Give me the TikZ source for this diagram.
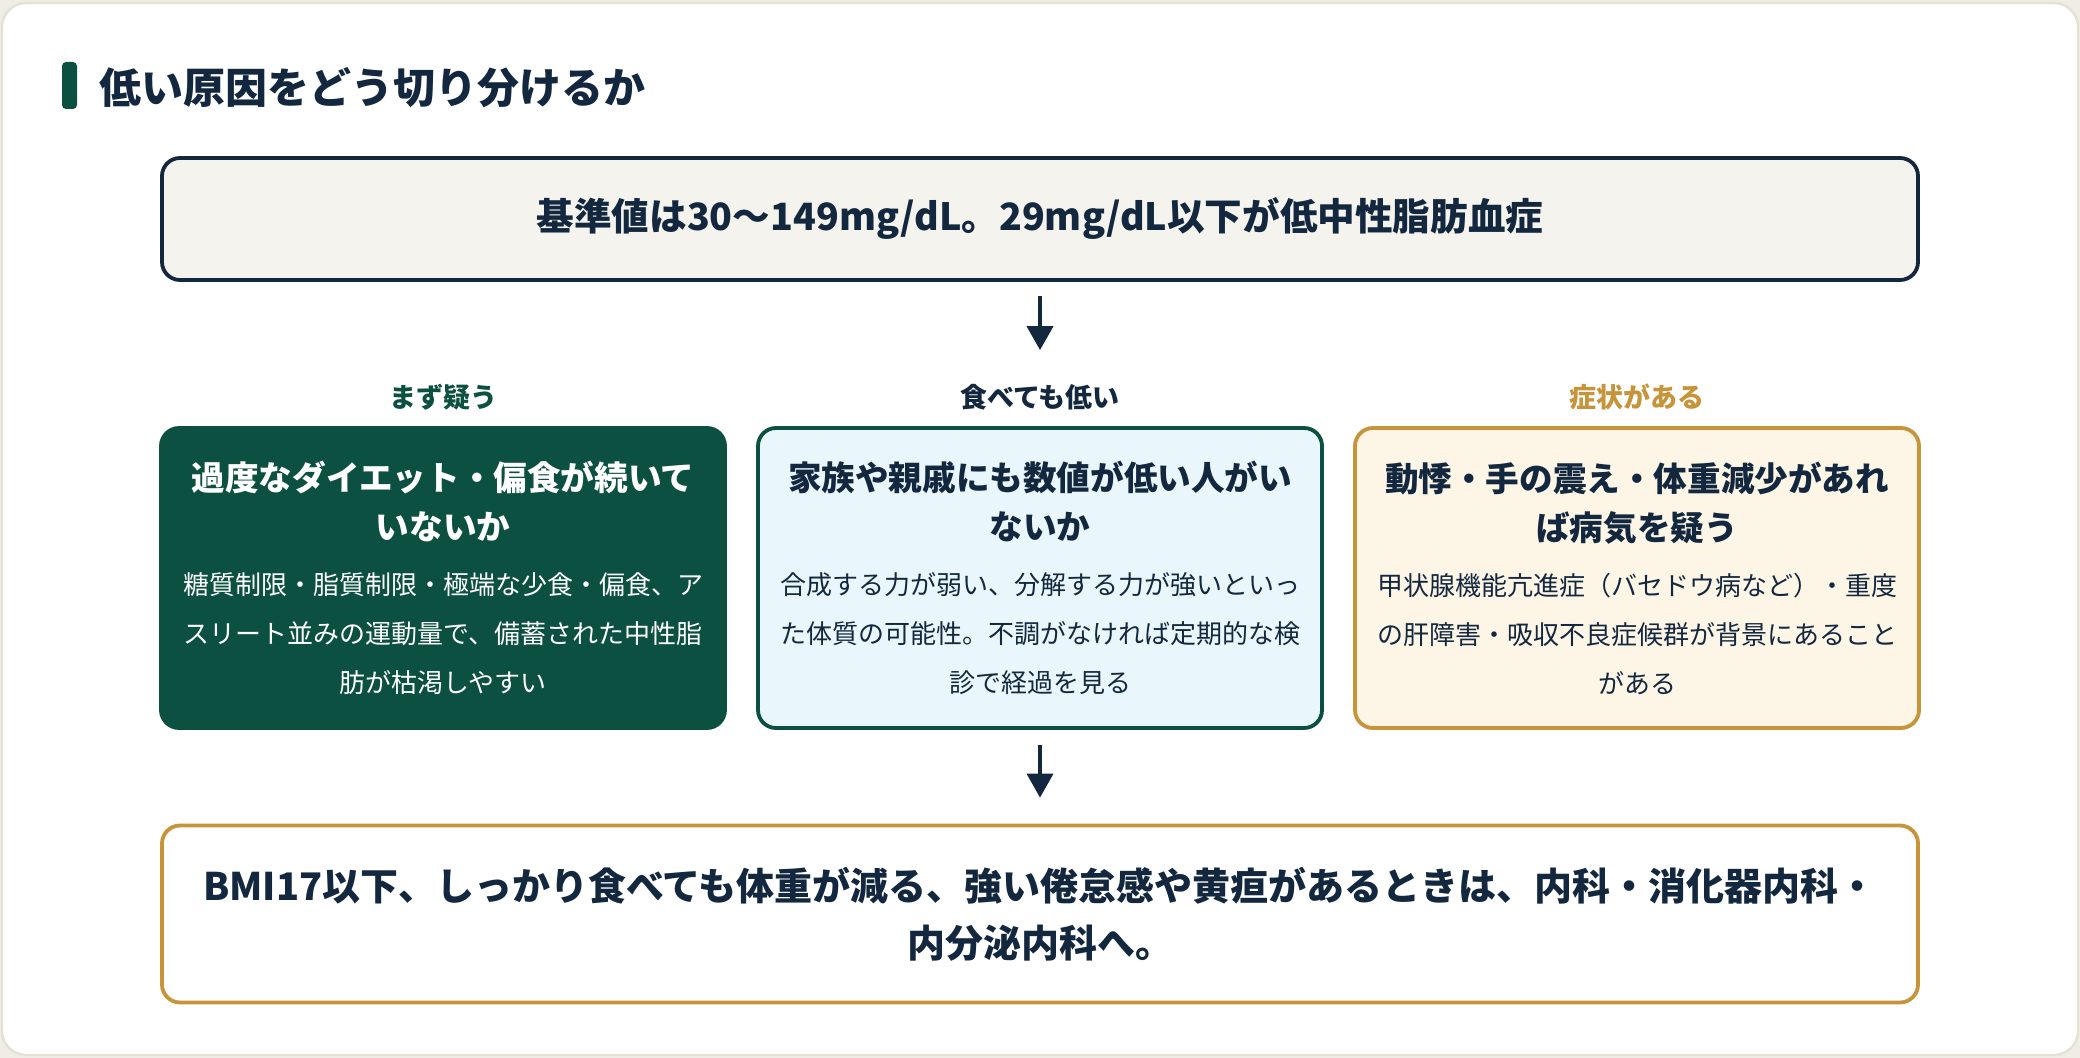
\documentclass[tikz,border=0pt]{standalone}
\usepackage{fontspec}
\setmainfont{Noto Sans CJK JP}
\usetikzlibrary{positioning,arrows.meta}
\definecolor{navy}{HTML}{13283F}
\definecolor{deepgreen}{HTML}{0B5040}
\definecolor{gold}{HTML}{C8943A}
\definecolor{cream}{HTML}{FDF5E6}
\definecolor{icecyan}{HTML}{E9F7FC}
\definecolor{paper}{HTML}{F5F3EE}
\definecolor{cardline}{HTML}{E5E1D3}
\definecolor{outside}{HTML}{EFEDE5}

\newcommand{\boxhead}[1]{{\fontsize{16.8pt}{24.5pt}\selectfont\bfseries #1\par}\vskip3pt}
\newcommand{\boxbody}[1]{{\fontsize{13pt}{24.5pt}\selectfont #1\par}}

\tikzset{
  wide/.style={rounded corners=9pt, line width=1.9pt, text width=866pt, inner xsep=6pt,
    align=center, text=navy, font=\fontsize{19pt}{28.5pt}\selectfont\bfseries},
  card/.style={rounded corners=9pt, line width=1.9pt, text width=270pt, inner xsep=6pt,
    minimum height=150pt, align=center, text=navy},
  tag/.style={font=\fontsize{13.5pt}{16pt}\selectfont\bfseries},
  flow/.style={-{Triangle[width=13pt,length=12pt]}, line width=2pt, draw=navy}
}

\begin{document}
\begin{tikzpicture}[x=0.5pt,y=-0.5pt]
  \useasboundingbox (0,0) rectangle (2080,1058);
  \fill[outside] (0,0) rectangle (2080,1058);
  \draw[cardline, fill=white, line width=1.2pt, rounded corners=12pt] (2,3) rectangle (2078,1055);

  % heading
  \fill[deepgreen, rounded corners=2pt] (62,62) rectangle (77,109);
  \node[anchor=west, text=navy, font=\fontsize{21pt}{24pt}\selectfont\bfseries] (heading) at (92,88) {低い原因をどう切り分けるか};

  % reference range
  \node[wide, draw=navy, fill=paper, minimum height=61pt, font=\fontsize{18.8pt}{28.5pt}\selectfont\bfseries] (limit) at (1040,219) {基準値は30〜149mg/dL。29mg/dL以下が低中性脂肪血症};

  % three causes
  \node[tag, text=deepgreen] (tagdiet) at (443,397) {まず疑う};
  \node[tag, text=navy] (tagfamily) at (1040,397) {食べても低い};
  \node[tag, text=gold] (tagsign) at (1637,397) {症状がある};

  \node[card, draw=deepgreen, fill=deepgreen, text=white] (diet) at (443,578) {%
    \boxhead{過度なダイエット・偏食が続いて\\いないか}%
    \boxbody{糖質制限・脂質制限・極端な少食・偏食、ア\\スリート並みの運動量で、備蓄された中性脂\\肪が枯渇しやすい}};
  \node[card, draw=deepgreen, fill=icecyan] (family) at (1040,578) {%
    \boxhead{家族や親戚にも数値が低い人がい\\ないか}%
    \boxbody{合成する力が弱い、分解する力が強いといっ\\た体質の可能性。不調がなければ定期的な検\\診で経過を見る}};
  \node[card, draw=gold, fill=cream] (sign) at (1637,578) {%
    \boxhead{動悸・手の震え・体重減少があれ\\ば病気を疑う}%
    \boxbody{甲状腺機能亢進症（バセドウ病など）・重度\\の肝障害・吸収不良症候群が背景にあること\\がある}};

  % where to go
  \node[wide, draw=gold, fill=white, minimum height=88.5pt] (advice) at (1040,914) {BMI17以下、しっかり食べても体重が減る、強い倦怠感や黄疸があるときは、内科・消化器内科・\\内分泌内科へ。};

  \draw[flow, shorten <=7pt, shorten >=38pt] (limit.south) -- (family.north);
  \draw[flow, shorten <=7.5pt, shorten >=13pt] (family.south) -- (advice.north);
\end{tikzpicture}
\end{document}
